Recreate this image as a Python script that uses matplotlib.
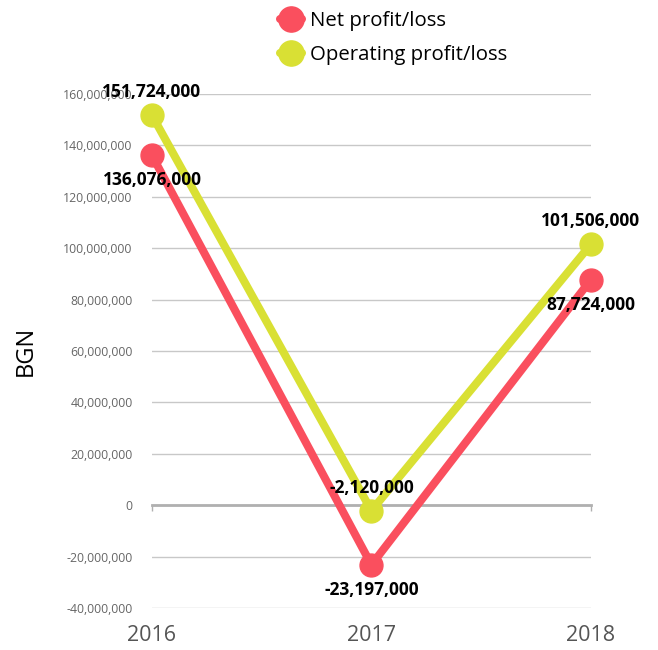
import matplotlib
matplotlib.use("Agg")
import matplotlib.pyplot as plt
from matplotlib.ticker import FuncFormatter

years = ["2016", "2017", "2018"]
net_profit = [136076000, -23197000, 87724000]
operating_profit = [151724000, -2120000, 101506000]
y_ticks = [-40000000, -20000000, 0, 20000000, 40000000, 60000000,
           80000000, 100000000, 120000000, 140000000, 160000000]

colors = {
    "net": "#fa4f5e",
    "op": "#d9e034",
    "grid": "#c8c8c8",
    "zero": "#b0b0b0",
    "tick": "#666666",
    "year": "#555555",
}

plt.rcParams["font.family"] = ["Open Sans", "DejaVu Sans"]

fig = plt.figure(figsize=(6.58, 6.5), dpi=100)
ax = fig.add_axes([0.231, 0.0646, 0.667, 0.7908])

x = list(range(len(years)))
ax.plot(x, net_profit, color=colors["net"], lw=5.8, marker="o", ms=16.5,
        solid_capstyle="round", clip_on=False, zorder=3, label="Net profit/loss")
ax.plot(x, operating_profit, color=colors["op"], lw=5.8, marker="o", ms=16.5,
        solid_capstyle="round", clip_on=False, zorder=4, label="Operating profit/loss")

# operating labels sit above the points, net labels below
for xi, v in zip(x, operating_profit):
    ax.annotate(f"{v:,}", (xi, v), xytext=(0, 16.5), textcoords="offset points",
                ha="center", va="center", fontsize=12.5, fontweight="bold",
                color="black", zorder=6)
for xi, v in zip(x, net_profit):
    ax.annotate(f"{v:,}", (xi, v), xytext=(0, -18), textcoords="offset points",
                ha="center", va="center", fontsize=12.5, fontweight="bold",
                color="black", zorder=6)

ax.set_xlim(0, 2)
ax.set_ylim(-40000000, 160000000)
ax.set_yticks(y_ticks)
ax.yaxis.set_major_formatter(FuncFormatter(lambda v, p: f"{int(v):,}"))
ax.tick_params(axis="y", length=0, pad=14, labelsize=8.8, labelcolor=colors["tick"])
ax.yaxis.grid(True, color=colors["grid"], lw=1)
ax.set_axisbelow(True)

for s in ("top", "right", "left"):
    ax.spines[s].set_visible(False)
ax.spines["bottom"].set_position(("data", 0))
ax.spines["bottom"].set_color(colors["zero"])
ax.spines["bottom"].set_linewidth(2)
ax.spines["bottom"].set_zorder(2)
ax.set_xticks(x)
ax.set_xticklabels([])
ax.tick_params(axis="x", direction="out", length=4, width=1, color=colors["zero"])

sec = ax.secondary_xaxis("bottom")
sec.set_xticks(x, labels=years)
sec.tick_params(length=0, pad=12, labelsize=15.5, labelcolor=colors["year"])
sec.spines["bottom"].set_visible(False)

ax.set_ylabel("BGN", fontsize=17, labelpad=18, color="black")

ax.legend(loc="lower center", bbox_to_anchor=(0.55, 1.04), frameon=False,
          fontsize=14.7, handlelength=1.1, handletextpad=0.35, labelspacing=0.7,
          markerscale=1.1, borderaxespad=0)

fig.savefig("out.png", dpi=100)
